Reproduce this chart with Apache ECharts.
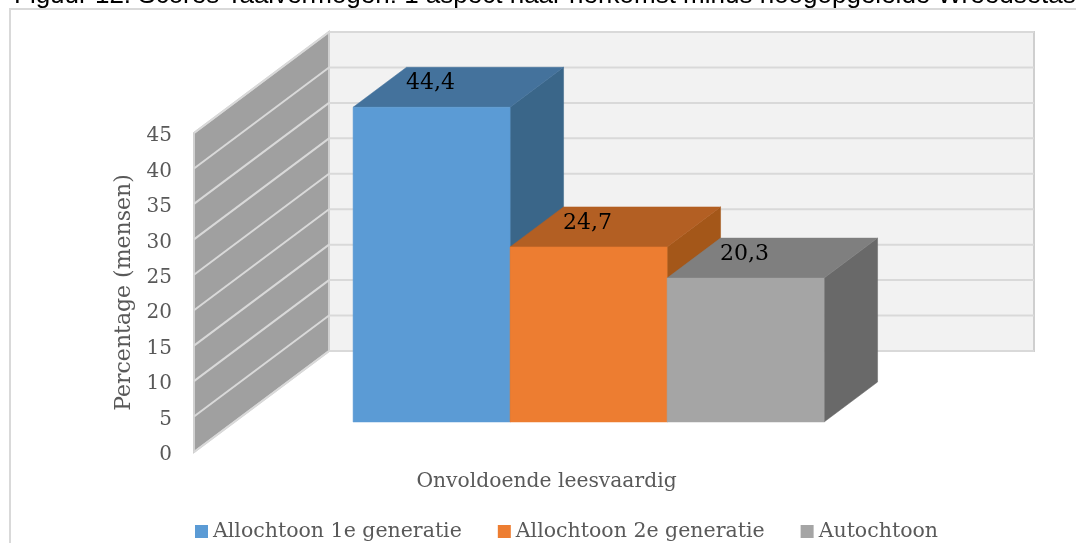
<!DOCTYPE html>
<html><head><meta charset="utf-8">
<style>html,body{margin:0;padding:0;background:#fff}#c{width:1076px;height:543px}</style>
<script src="https://cdn.jsdelivr.net/npm/echarts@6/dist/echarts.min.js"></script>
</head><body><div id="c"></div>
<script>
const categories = ['Onvoldoende leesvaardig'];
const seriesNames = ['Allochtoon 1e generatie', 'Allochtoon 2e generatie', 'Autochtoon'];
const values1 = [44.4];
const values2 = [24.7];
const values3 = [20.3];
const yTicks = [0, 5, 10, 15, 20, 25, 30, 35, 40, 45];
const titleText = 'Figuur 12. Scores Taalvermogen: 1 aspect naar herkomst minus hoogopgeleide Wreedsetas';

const FONT = '"DejaVu Serif"';
const DX = 135, DY = -101;           // depth vector of the 3D box
const BAR_NEAR = 0.297, BAR_FAR = 0.693, BAR_W = 0.2227, BAR_CENTER_SHIFT = 2;
const palette = [
  {front:'#5B9BD5', top:'#44729C', side:'#3A6689'},
  {front:'#ED7D31', top:'#B35F23', side:'#A45719'},
  {front:'#A5A5A5', top:'#7F7F7F', side:'#696969'}
];
const poly = (pts, fill, stroke, lw) => ({type:'polygon', shape:{points:pts}, style:{fill, stroke:stroke||fill, lineWidth:lw===undefined?0.5:lw}});

function wallItem(params, api) {
  const a = api.coord([0, 0]), b = api.coord([0, 45]), band = api.size([1, 0])[0];
  const xl = a[0] - band / 2, y0 = a[1], y1 = b[1];
  return {type:'group', children:[
    poly([[xl+DX,y1+DY],[xl+DX+band,y1+DY],[xl+DX+band,y0+DY],[xl+DX,y0+DY]], '#F2F2F2', '#CFCFCF', 2),
    poly([[xl,y0],[xl+DX,y0+DY],[xl+DX,y1+DY],[xl,y1]], '#A0A0A0', '#D0D0D0', 2)
  ]};
}
function gridItem(params, api) {
  const p = api.coord([0, api.value(0)]), band = api.size([1, 0])[0], xl = p[0] - band / 2, y = p[1];
  const ls = {stroke:'#D9D9D9', lineWidth:2};
  return {type:'group', children:[
    {type:'line', shape:{x1:xl, y1:y, x2:xl+DX, y2:y+DY}, style:ls},
    {type:'line', shape:{x1:xl+DX, y1:y+DY, x2:xl+DX+band, y2:y+DY}, style:ls}
  ]};
}
function barItem(idx) {
  return function (params, api) {
    const v = api.value(1);
    const c0 = api.coord([api.value(0), 0]), c1 = api.coord([api.value(0), v]);
    const band = api.size([1, 0])[0], w = band * BAR_W;
    const nx = DX * BAR_NEAR, ny = DY * BAR_NEAR;
    const bx = DX * (BAR_FAR - BAR_NEAR), by = DY * (BAR_FAR - BAR_NEAR);
    const x0 = c0[0] + nx + BAR_CENTER_SHIFT + (idx - 1.5) * w, x1 = x0 + w;
    const yb = c0[1] + ny, yt = c1[1] + ny;
    const col = palette[idx];
    return {type:'group', children:[
      poly([[x1,yt],[x1+bx,yt+by],[x1+bx,yb+by],[x1,yb]], col.side),
      poly([[x0,yt],[x1,yt],[x1+bx,yt+by],[x0+bx,yt+by]], col.top),
      poly([[x0,yt],[x1,yt],[x1,yb],[x0,yb]], col.front),
      {type:'text', style:{text:v.toFixed(1).replace('.', ','), x:(x0+x1)/2-1, y:yt-24, align:'center', verticalAlign:'middle', font:'22px '+FONT, fill:'#000'}, z2:50}
    ]};
  };
}
const allVals = [values1, values2, values3];
const option = {
  animation:false,
  backgroundColor:'#fff',
  title:{text:titleText, left:9, top:-22, textStyle:{fontFamily:'"Liberation Sans"', fontWeight:'normal', fontSize:26, color:'#000'}},
  graphic:[{type:'rect', shape:{x:10, y:9, width:1200, height:700}, style:{fill:'none', stroke:'#D9D9D9', lineWidth:2}, silent:true, z:-1}],
  grid:{left:194, right:177, top:133, bottom:91},
  legend:{left:190, top:516, itemWidth:13, itemHeight:13, itemGap:36, icon:'rect', data:seriesNames,
    textStyle:{fontFamily:FONT, fontSize:20.5, color:'#595959'}},
  xAxis:{type:'category', data:categories, axisLine:{show:false}, axisTick:{show:false},
    axisLabel:{margin:20, fontFamily:FONT, fontSize:20.3, color:'#595959'}},
  yAxis:{type:'value', min:0, max:45, interval:5, name:'Percentage (mensen)', nameLocation:'middle', nameGap:59,
    nameTextStyle:{fontFamily:FONT, fontSize:22, color:'#595959'},
    splitLine:{show:false}, axisLine:{show:false}, axisTick:{show:false},
    axisLabel:{margin:22, verticalAlign:'top', padding:[-7,0,0,0], fontFamily:FONT, fontSize:20, color:'#595959'}},
  series:[
    {type:'custom', name:'walls', data:[[0]], renderItem:wallItem, silent:true, z:1},
    {type:'custom', name:'grid', data:yTicks.map(t=>[t]), renderItem:gridItem, silent:true, z:2},
    ...seriesNames.map((n,i)=>({type:'custom', name:n, data:[[0, allVals[i][0]]], renderItem:barItem(i), itemStyle:{color:palette[i].front}, encode:{x:0,y:1}, z:3+i}))
  ]
};
echarts.init(document.getElementById('c')).setOption(option);
</script></body></html>
